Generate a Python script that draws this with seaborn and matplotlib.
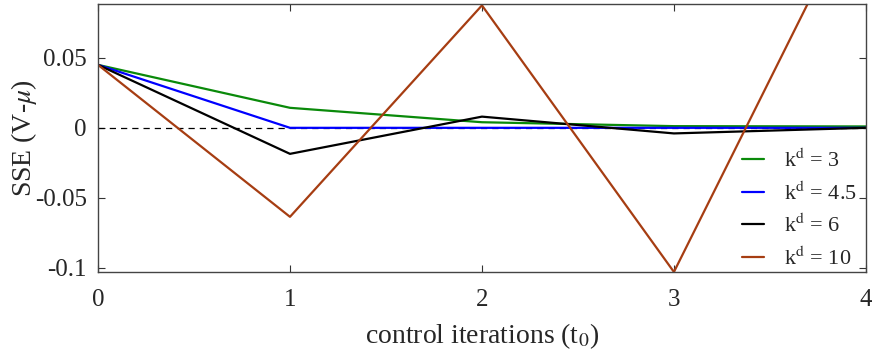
import pandas as pd
import matplotlib
matplotlib.use("Agg")
import matplotlib.pyplot as plt
import seaborn as sns

sns.set_style("ticks")
plt.rcParams['font.family'] = ['Liberation Serif', 'DejaVu Serif']
plt.rcParams['mathtext.fontset'] = 'stix'

# data
iterations = [0, 1, 2, 3, 4]
sse_k3 = [0.045, 0.0143, 0.004, 0.0012, 0.001]
sse_k45 = [0.045, 0.0, 0.0, 0.0, 0.0]
sse_k6 = [0.045, -0.0186, 0.008, -0.004, 0.0]
sse_k10 = [0.045, -0.0636, 0.0875, -0.103, 0.172]
labels = ["k$^\\mathrm{d}$ = 3", "k$^\\mathrm{d}$ = 4.5",
          "k$^\\mathrm{d}$ = 6", "k$^\\mathrm{d}$ = 10"]
colors = ["#0a8a0a", "#0000ff", "#000000", "#a63d12"]

df = pd.concat([
    pd.DataFrame({"t": iterations, "sse": vals, "gain": lab})
    for vals, lab in zip([sse_k3, sse_k45, sse_k6, sse_k10], labels)
])

fig = plt.figure(figsize=(8.72, 3.5), dpi=100)
ax = fig.add_axes([0.1124, 0.223, 0.8806, 0.766])

ax.axhline(0, color="black", lw=0.9, ls=(0, (5, 4)), zorder=1)
sns.lineplot(data=df, x="t", y="sse", hue="gain", palette=colors,
             lw=1.6, ax=ax, zorder=2)

ax.set_xlim(0, 4)
ax.set_ylim(-0.103, 0.0886)
ax.set_xticks([0, 1, 2, 3, 4])
ax.set_yticks([-0.1, -0.05, 0, 0.05])
ax.set_yticklabels(["-0.1", "-0.05", "0", "0.05"])
ax.set_xlabel("control iterations (t$_0$)", fontsize=20, labelpad=8)
ax.set_ylabel("SSE (V-$\\mu$)", fontsize=20, labelpad=-3)
ax.tick_params(direction="in", length=5, width=0.8, top=True, right=True,
               labelsize=18, colors="#333333", labelcolor="#262626", pad=8)
ax.tick_params(axis="x", pad=12)
for s in ax.spines.values():
    s.set_color("#444444")
    s.set_linewidth(1.0)

ax.legend(loc="lower right", bbox_to_anchor=(1.0, -0.025), frameon=False,
          fontsize=16, handlelength=1.0, labelspacing=0.42,
          borderaxespad=0.0, handletextpad=0.9)

fig.savefig("out.png", dpi=100)
